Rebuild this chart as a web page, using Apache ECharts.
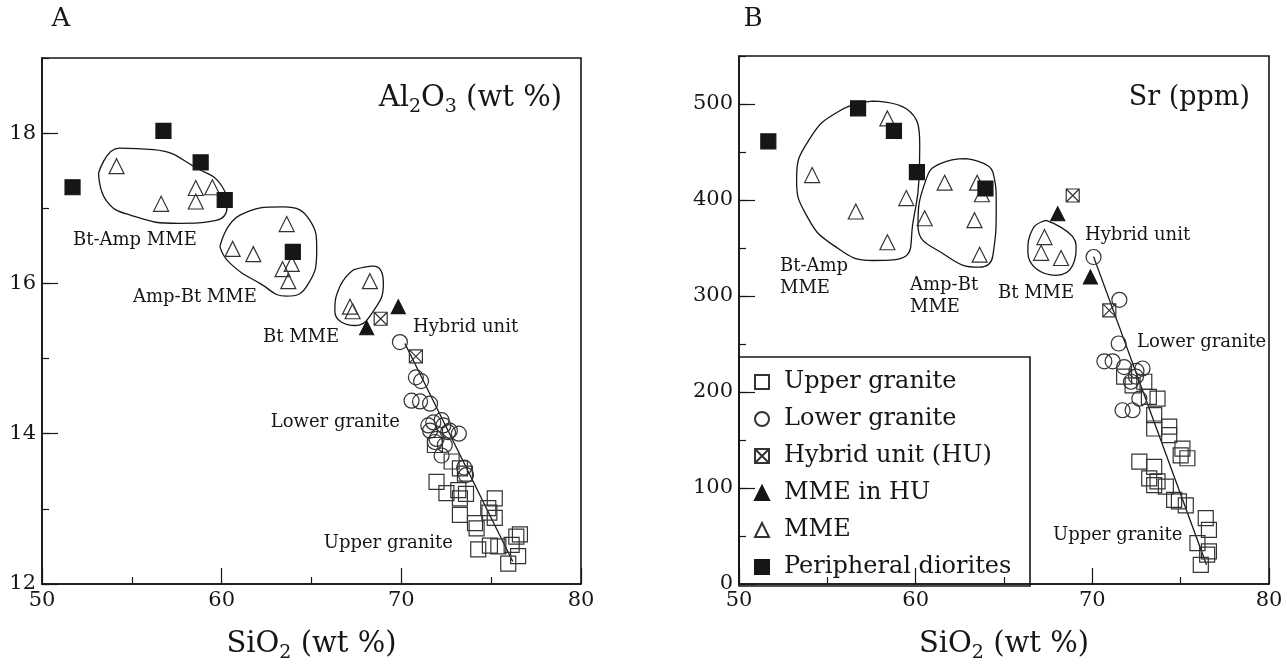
<!DOCTYPE html>
<html>
<head>
<meta charset="utf-8">
<script src="https://cdn.jsdelivr.net/npm/echarts@6/dist/echarts.min.js"></script>
<style>
html,body{margin:0;padding:0;background:#fff;}
#chart{width:1287px;height:668px;}
</style>
</head>
<body>
<div id="chart"></div>
<script>
// ---- panel A : SiO2 vs Al2O3 (wt %) ----
var aUpper = [[71.87,13.85],[72.8,13.63],[73.26,13.54],[73.54,13.47],[71.96,13.36],[72.51,13.21],[73.17,13.25],
  [73.26,13.14],[73.6,13.2],[73.26,12.92],[74.1,12.81],[74.19,12.74],[74.84,13.01],[74.9,12.95],[75.2,13.14],
  [75.2,12.88],[74.93,12.51],[74.28,12.46],[76.6,12.66],[76.4,12.63],[76.14,12.52],[76.5,12.37],[75.95,12.27],[75.4,12.5]];
var aLower = [[69.92,15.22],[70.81,14.75],[71.1,14.7],[70.57,14.44],[71.04,14.43],[71.6,14.4],[71.78,14.15],
  [72.34,14.11],[72.7,14.04],[71.6,14.04],[71.96,13.93],[71.5,14.11],[72.24,14.18],[72.6,14.02],[71.87,13.89],
  [72.42,13.85],[72.24,13.71],[73.2,14.0],[73.5,13.55],[73.6,13.45]];
var aHybrid = [[68.85,15.53],[70.81,15.03]];
var aMmeHu = [[68.07,15.41],[69.83,15.69]];
var aMme = [[54.15,17.56],[56.63,17.06],[58.56,17.27],[58.56,17.09],[59.48,17.28],[60.61,16.46],[61.76,16.39],
  [63.62,16.79],[63.39,16.19],[63.9,16.26],[63.71,16.03],[68.25,16.03],[67.14,15.69],[67.29,15.63]];
var aDiorite = [[51.7,17.28],[56.76,18.03],[58.83,17.61],[60.17,17.11],[63.96,16.42]];
var aTrend = [[70.2,15.2],[76.2,12.3]];
var aBtAmpLoop = [[53.15,17.47],[54.3,17.8],[56.2,17.78],[58.74,17.52],[60.0,17.3],[60.3,17.02],[59.7,16.84],
  [57.63,16.8],[55.04,16.9],[53.56,17.11],[53.15,17.47]];
var aAmpBtLoop = [[59.9,16.49],[61.02,16.91],[63.43,17.02],[64.91,16.84],[65.29,16.45],[64.73,15.96],[63.62,15.83],
  [62.13,16.0],[60.46,16.27],[59.9,16.49]];
var aBtLoop = [[67.32,16.18],[68.44,16.23],[69.0,16.0],[68.44,15.63],[67.42,15.44],[66.3,15.63],[66.58,15.96],[67.32,16.18]];

// ---- panel B : SiO2 vs Sr (ppm) ----
var bUpper = [[71.8,216],[72.28,207],[72.94,210.7],[73.69,193],[73.2,195],[73.5,176],[73.5,162],[74.35,164],
  [74.35,155],[75.1,141],[75.38,131],[75.0,134],[72.66,127.5],[73.5,122],[73.22,110],[73.5,103],[73.69,107],
  [74.16,101.5],[74.63,87.6],[74.9,86],[75.29,81.8],[76.42,68.6],[76.6,56.4],[75.95,42.6],[76.6,34],[76.14,20],[76.5,30.5]];
var bLower = [[70.07,340.6],[71.53,296],[71.49,250.5],[70.68,232],[71.15,232],[71.8,226],[72.84,224.5],[72.47,216],
  [72.19,210.7],[72.66,193],[71.71,181],[72.28,181],[72.5,222]];
var bHybrid = [[68.89,404.7],[70.96,285]];
var bMmeHu = [[68.04,385.7],[69.89,319.8]];
var bMme = [[54.14,426],[56.61,388],[58.4,485],[58.4,356],[59.47,402],[60.51,381],[61.64,418],[63.48,418],
  [63.75,406],[63.33,379],[63.62,343],[67.29,361.4],[67.1,345],[68.23,339.6]];
var bDiorite = [[51.66,461],[56.74,495.5],[58.77,472],[60.07,429],[63.95,412]];
var bTrend = [[70.07,341],[76.46,20]];
var bBtAmpLoop = [[57.59,503],[59.47,495],[60.23,457],[60.19,422],[59.85,377],[59.47,342],[57.59,337],[55.33,353],
  [53.82,384],[53.26,422],[54.01,464],[55.71,493],[57.59,503]];
var bAmpBtLoop = [[62.86,443],[64.37,429],[64.56,394],[64.37,342],[63.62,330],[61.73,342],[60.13,373.5],[60.6,422],
  [61.36,437.6],[62.86,443]];
var bBtLoop = [[67.38,378.7],[69.08,352.7],[68.89,332],[67.95,321.5],[66.35,345.8],[66.63,370],[67.38,378.7]];

var legendNames = ['Upper granite', 'Lower granite', 'Hybrid unit (HU)', 'MME in HU', 'MME', 'Peripheral diorites'];
var xRange = [50, 80];
var aRange = [12, 19];
var bRange = [0, 550];

var FONT = 'DejaVu Serif';
var INK = '#161616';
var HOLLOW = 'rgba(255,255,255,0)';
var CROSS = 'path://M0 0H10V10H0Z M0 0L10 10 M10 0L0 10';

var chart = echarts.init(document.getElementById('chart'));

function pts(name, data, gi, symbol, size, filled) {
  return {
    name: name, type: 'scatter', xAxisIndex: gi, yAxisIndex: gi * 2, data: data,
    symbol: symbol, symbolSize: size,
    itemStyle: { color: filled ? INK : HOLLOW, borderColor: filled ? INK : '#333', borderWidth: 1.2, opacity: 1 },
    z: 3
  };
}
function curve(data, gi, smooth) {
  return {
    type: 'line', xAxisIndex: gi, yAxisIndex: gi * 2, data: data, smooth: smooth, symbol: 'none', silent: true,
    lineStyle: { color: INK, width: 1.3 }, z: 2
  };
}
function xAxis(gi) {
  return {
    type: 'value', gridIndex: gi, min: xRange[0], max: xRange[1], interval: 10,
    axisLine: { show: true, onZero: false, lineStyle: { color: INK, width: 1.6 } },
    axisTick: { inside: true, length: 16, lineStyle: { color: INK, width: 1.2 } },
    minorTick: { show: true, splitNumber: 2, length: 7, lineStyle: { color: INK, width: 1.2 } },
    splitLine: { show: false }, minorSplitLine: { show: false },
    axisLabel: { fontFamily: FONT, fontSize: 21, color: INK, margin: 6 },
    name: '{a|SiO}{s|2}{a| (wt %)}', nameLocation: 'middle', nameGap: 42,
    nameTextStyle: { rich: {
      a: { fontFamily: FONT, fontSize: 29, color: INK },
      s: { fontFamily: FONT, fontSize: 19, color: INK, padding: [18, 0, 0, 0] }
    } }
  };
}
function yAxes(gi, range, major, minor) {
  var base = { type: 'value', gridIndex: gi, position: 'left', min: range[0], max: range[1],
    splitLine: { show: false } };
  return [
    Object.assign({}, base, {
      interval: major,
      axisLine: { show: true, onZero: false, lineStyle: { color: INK, width: 1.6 } },
      axisTick: { inside: true, length: 16, lineStyle: { color: INK, width: 1.2 } },
      axisLabel: { fontFamily: FONT, fontSize: 21, color: INK, margin: 6, showMaxLabel: false }
    }),
    Object.assign({}, base, {
      interval: minor,
      axisLine: { show: false },
      axisTick: { inside: true, length: 7, lineStyle: { color: INK, width: 1.2 } },
      axisLabel: { show: false }
    })
  ];
}
function label(text, x, y, align) {
  return { type: 'text', x: x, y: y, style: { text: text, fontFamily: FONT, fontSize: 18, fill: INK,
    align: align || 'left', verticalAlign: 'middle' } };
}

var option = {
  backgroundColor: '#fff',
  animation: false,
  grid: [
    { left: 42, right: 706, top: 58, bottom: 82, show: true, borderColor: INK, borderWidth: 1.6 },
    { left: 739, right: 18, top: 56, bottom: 82, show: true, borderColor: INK, borderWidth: 1.6 }
  ],
  xAxis: [xAxis(0), xAxis(1)],
  yAxis: yAxes(0, aRange, 2, 1).concat(yAxes(1, bRange, 100, 50)),
  legend: {
    data: legendNames, orient: 'vertical', left: 749, top: 365, itemWidth: 14, itemHeight: 14, itemGap: 13,
    selectedMode: false,
    textStyle: { fontFamily: FONT, fontSize: 24, color: INK, padding: [0, 0, 0, 10] }
  },
  series: [
    curve(aBtAmpLoop, 0, 0.5), curve(aAmpBtLoop, 0, 0.5), curve(aBtLoop, 0, 0.5), curve(aTrend, 0, false),
    pts(legendNames[0], aUpper, 0, 'rect', 15, false),
    pts(legendNames[1], aLower, 0, 'circle', 15, false),
    pts(legendNames[2], aHybrid, 0, CROSS, 13, false),
    pts(legendNames[3], aMmeHu, 0, 'triangle', 14, true),
    pts(legendNames[4], aMme, 0, 'triangle', 15, false),
    pts(legendNames[5], aDiorite, 0, 'rect', 15, true),
    curve(bBtAmpLoop, 1, 0.5), curve(bAmpBtLoop, 1, 0.5), curve(bBtLoop, 1, 0.5), curve(bTrend, 1, false),
    pts(legendNames[0], bUpper, 1, 'rect', 15, false),
    pts(legendNames[1], bLower, 1, 'circle', 15, false),
    pts(legendNames[2], bHybrid, 1, CROSS, 13, false),
    pts(legendNames[3], bMmeHu, 1, 'triangle', 14, true),
    pts(legendNames[4], bMme, 1, 'triangle', 15, false),
    pts(legendNames[5], bDiorite, 1, 'rect', 15, true)
  ],
  graphic: [
    { type: 'text', x: 61, y: 19, style: { text: 'A', fontFamily: FONT, fontSize: 26, fill: INK, align: 'center', verticalAlign: 'middle' } },
    { type: 'text', x: 753, y: 19, style: { text: 'B', fontFamily: FONT, fontSize: 26, fill: INK, align: 'center', verticalAlign: 'middle' } },
    { type: 'text', x: 562, y: 98, style: { text: '{a|Al}{s|2}{a|O}{s|3}{a| (wt %)}', align: 'right', verticalAlign: 'middle',
      rich: { a: { fontFamily: FONT, fontSize: 29, fill: INK }, s: { fontFamily: FONT, fontSize: 19, fill: INK, padding: [18, 0, 0, 0] } } } },
    { type: 'text', x: 1250, y: 98, style: { text: 'Sr (ppm)', fontFamily: FONT, fontSize: 27, fill: INK, align: 'right', verticalAlign: 'middle' } },
    label('Bt-Amp MME', 73, 240), label('Amp-Bt MME', 133, 297), label('Bt MME', 263, 337),
    label('Hybrid unit', 413, 327), label('Lower granite', 400, 422, 'right'), label('Upper granite', 453, 543, 'right'),
    label('Bt-Amp', 780, 266), label('MME', 780, 288), label('Amp-Bt', 910, 285), label('MME', 910, 307),
    label('Bt MME', 998, 293), label('Hybrid unit', 1085, 235), label('Lower granite', 1137, 342),
    label('Upper granite', 1053, 535),
    { type: 'rect', shape: { x: 739, y: 357, width: 291, height: 229 }, style: { fill: 'none', stroke: INK, lineWidth: 1.6 }, z: 5 }
  ]
};
chart.setOption(option);
</script>
</body>
</html>
